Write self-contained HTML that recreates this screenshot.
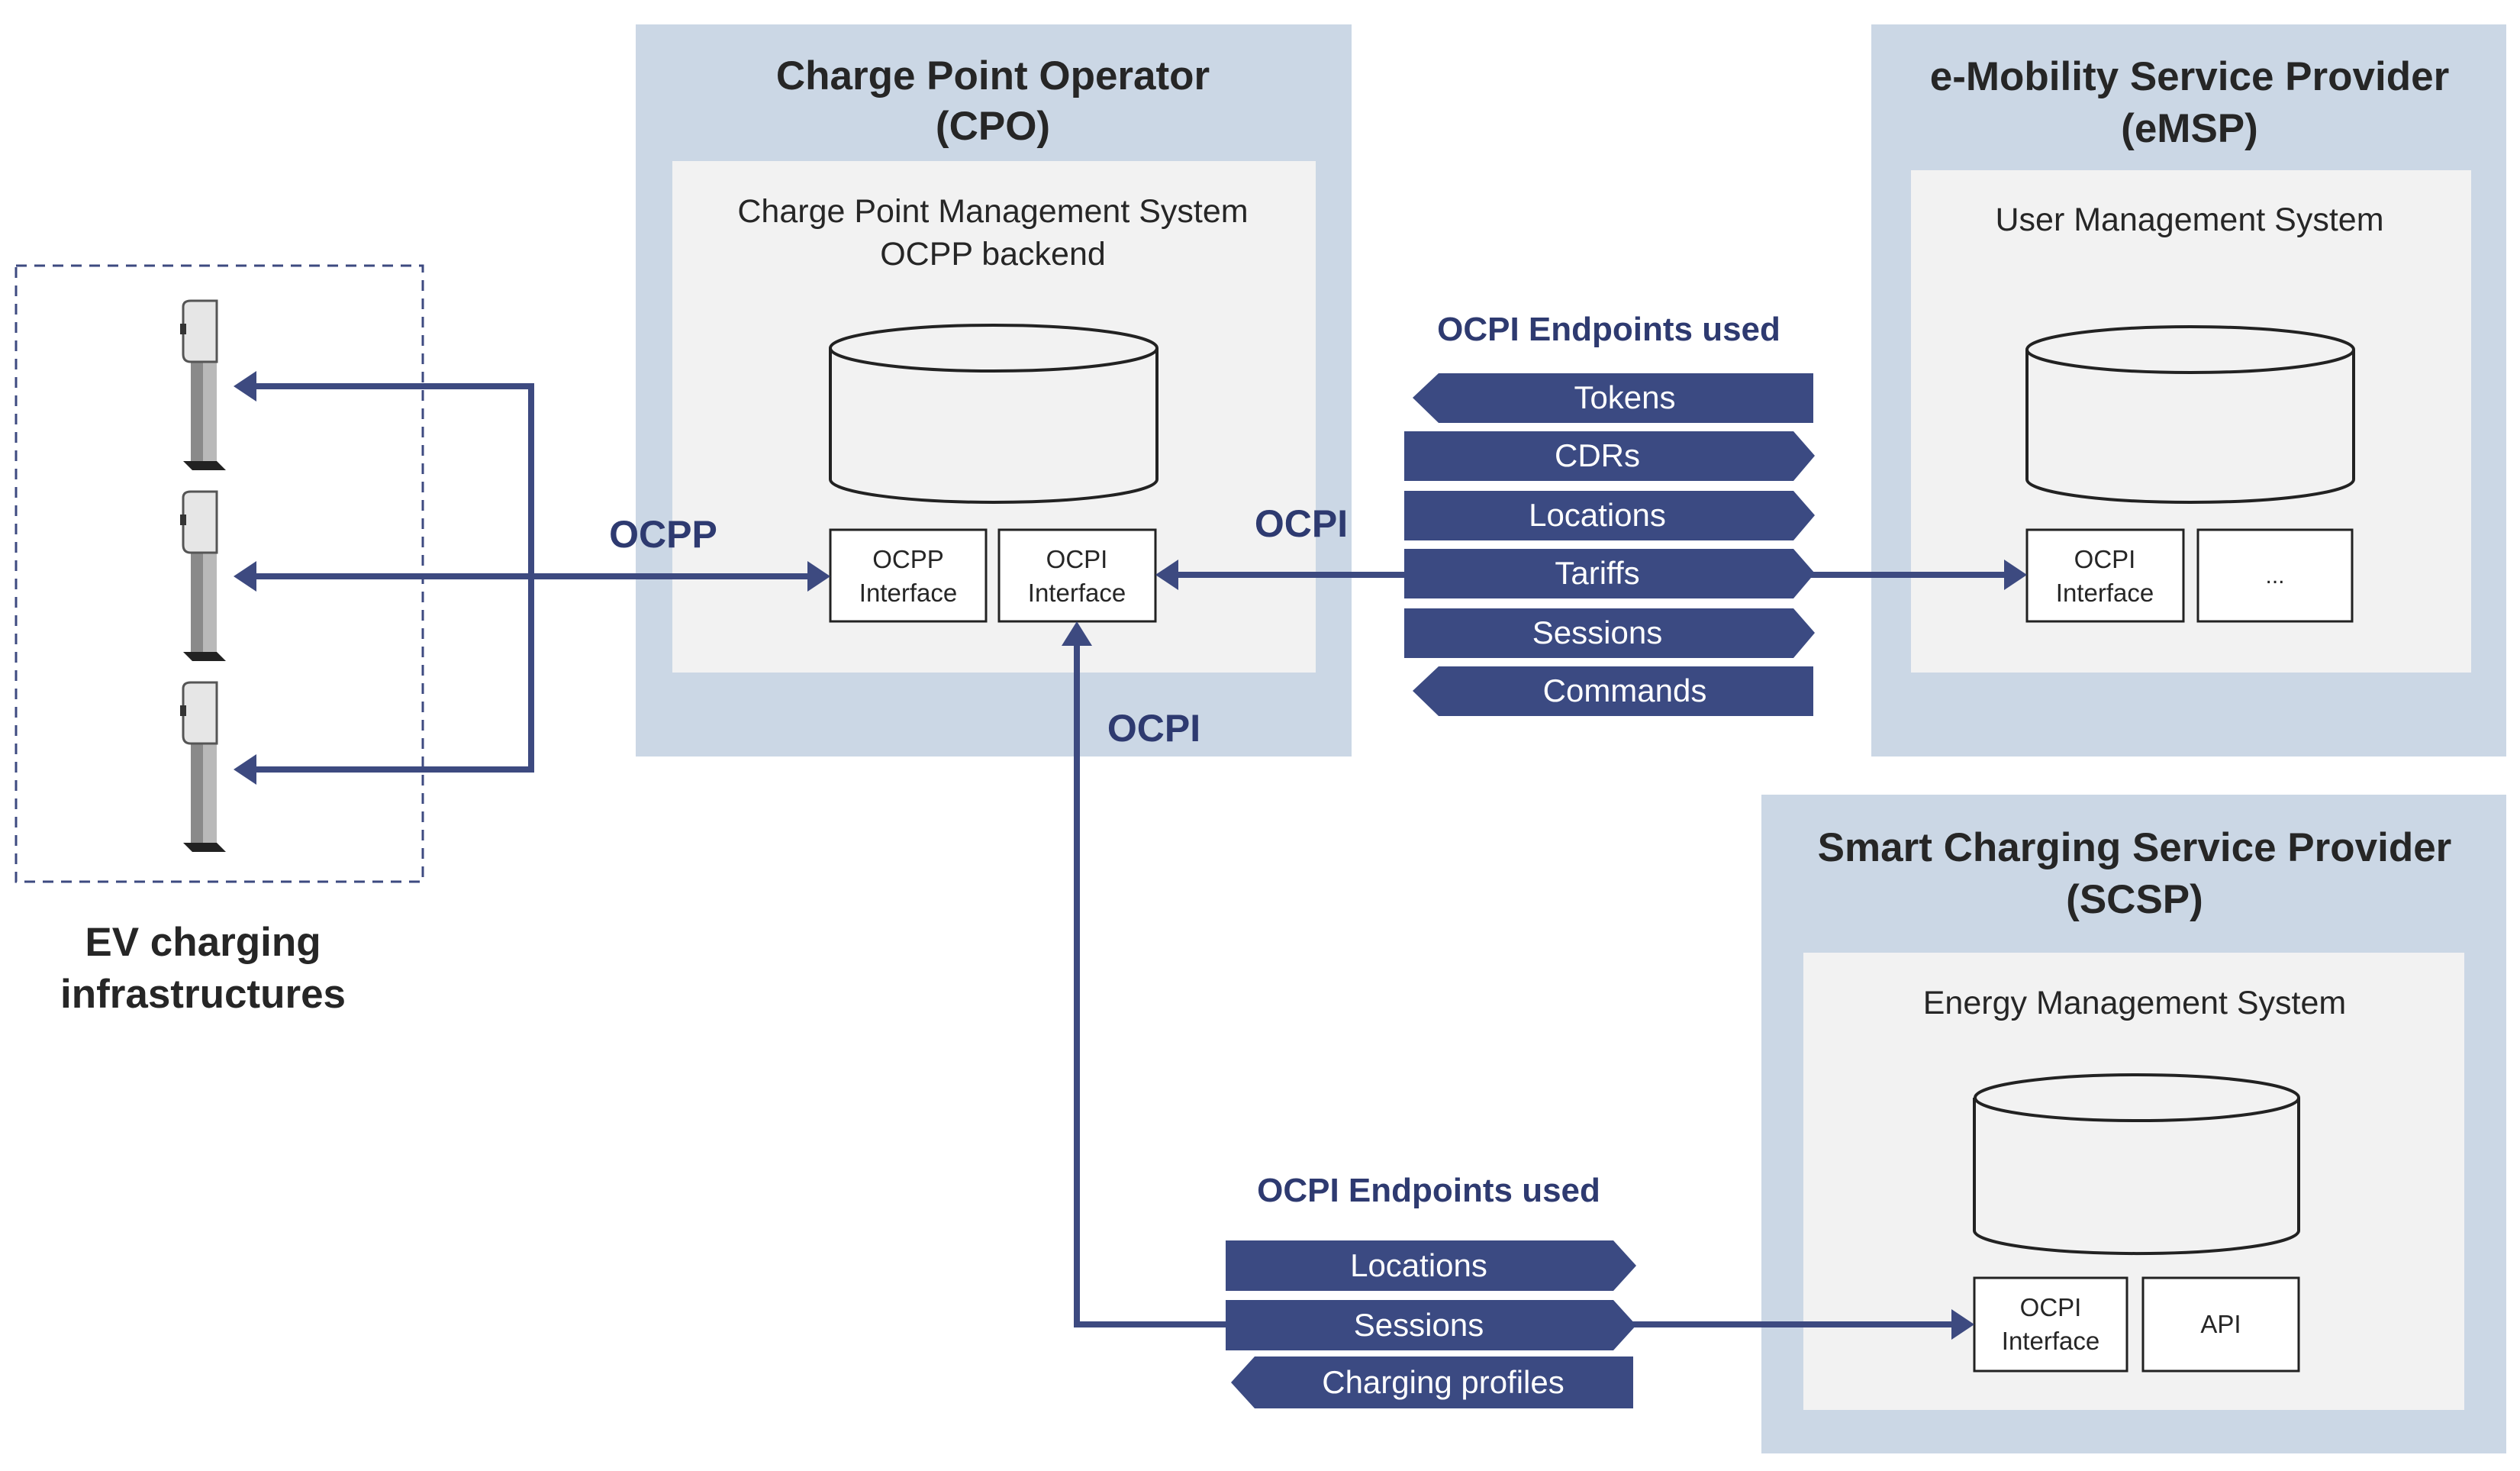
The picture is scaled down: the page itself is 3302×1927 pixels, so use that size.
<!DOCTYPE html>
<html><head><meta charset="utf-8"><style>
html,body{margin:0;padding:0;background:#fff;}
svg{display:block;}
text{font-family:"Liberation Sans",Arial,sans-serif;}
</style></head><body>
<svg width="3302" height="1927" viewBox="0 0 3302 1927" xmlns="http://www.w3.org/2000/svg">
<defs>
<g id="chg">
  <rect x="14" y="0" width="34" height="210" fill="#8a8a8a"/>
  <rect x="30" y="0" width="18" height="210" fill="#b9b9b9"/>
  <path d="M4 8 Q4 0 14 0 L48 0 L48 80 L14 80 Q4 80 4 70 Z" fill="#e6e6e6" stroke="#555" stroke-width="3"/>
  <rect x="0" y="30" width="8" height="14" fill="#333"/>
  <path d="M4 210 L48 210 L60 222 L16 222 Z" fill="#222"/>
</g>
</defs>

<!-- CPO -->
<rect x="833" y="32" width="938" height="959" fill="#cbd7e5"/>
<rect x="881" y="211" width="843" height="670" fill="#f2f2f2"/>
<text x="1301" y="117" font-size="53" font-weight="bold" fill="#262626" text-anchor="middle">Charge Point Operator</text>
<text x="1301" y="183" font-size="53" font-weight="bold" fill="#262626" text-anchor="middle">(CPO)</text>
<text x="1301" y="291" font-size="43" fill="#262626" text-anchor="middle">Charge Point Management System</text>
<text x="1301" y="347" font-size="43" fill="#262626" text-anchor="middle">OCPP backend</text>
<path d="M1088 456 L1088 628 A214 30 0 0 0 1516 628 L1516 456" fill="#f2f2f2" stroke="#222" stroke-width="4"/>
<ellipse cx="1302" cy="456" rx="214" ry="30" fill="#f2f2f2" stroke="#222" stroke-width="4"/>
<rect x="1088" y="694" width="204" height="120" fill="#fff" stroke="#222" stroke-width="3"/>
<rect x="1309" y="694" width="205" height="120" fill="#fff" stroke="#222" stroke-width="3"/>
<text x="1190" y="744" font-size="33" fill="#262626" text-anchor="middle">OCPP</text>
<text x="1190" y="788" font-size="33" fill="#262626" text-anchor="middle">Interface</text>
<text x="1411" y="744" font-size="33" fill="#262626" text-anchor="middle">OCPI</text>
<text x="1411" y="788" font-size="33" fill="#262626" text-anchor="middle">Interface</text>

<!-- eMSP -->
<rect x="2452" y="32" width="832" height="959" fill="#cbd7e5"/>
<rect x="2504" y="223" width="734" height="658" fill="#f2f2f2"/>
<text x="2869" y="118" font-size="53" font-weight="bold" fill="#262626" text-anchor="middle">e-Mobility Service Provider</text>
<text x="2869" y="186" font-size="53" font-weight="bold" fill="#262626" text-anchor="middle">(eMSP)</text>
<text x="2869" y="302" font-size="43" fill="#262626" text-anchor="middle">User Management System</text>
<path d="M2656 458 L2656 628 A214 30 0 0 0 3084 628 L3084 458" fill="#f2f2f2" stroke="#222" stroke-width="4"/>
<ellipse cx="2870" cy="458" rx="214" ry="30" fill="#f2f2f2" stroke="#222" stroke-width="4"/>
<rect x="2656" y="694" width="205" height="120" fill="#fff" stroke="#222" stroke-width="3"/>
<rect x="2880" y="694" width="202" height="120" fill="#fff" stroke="#222" stroke-width="3"/>
<text x="2758" y="744" font-size="33" fill="#262626" text-anchor="middle">OCPI</text>
<text x="2758" y="788" font-size="33" fill="#262626" text-anchor="middle">Interface</text>
<text x="2981" y="764" font-size="30" fill="#262626" text-anchor="middle">...</text>

<!-- SCSP -->
<rect x="2308" y="1041" width="976" height="863" fill="#cbd7e5"/>
<rect x="2363" y="1248" width="866" height="599" fill="#f2f2f2"/>
<text x="2797" y="1128" font-size="53" font-weight="bold" fill="#262626" text-anchor="middle">Smart Charging Service Provider</text>
<text x="2797" y="1196" font-size="53" font-weight="bold" fill="#262626" text-anchor="middle">(SCSP)</text>
<text x="2797" y="1328" font-size="43" fill="#262626" text-anchor="middle">Energy Management System</text>
<path d="M2587 1438 L2587 1612 A212 30 0 0 0 3012 1612 L3012 1438" fill="#f2f2f2" stroke="#222" stroke-width="4"/>
<ellipse cx="2800" cy="1438" rx="212" ry="30" fill="#f2f2f2" stroke="#222" stroke-width="4"/>
<rect x="2587" y="1674" width="200" height="122" fill="#fff" stroke="#222" stroke-width="3"/>
<rect x="2808" y="1674" width="204" height="122" fill="#fff" stroke="#222" stroke-width="3"/>
<text x="2687" y="1724" font-size="33" fill="#262626" text-anchor="middle">OCPI</text>
<text x="2687" y="1768" font-size="33" fill="#262626" text-anchor="middle">Interface</text>
<text x="2910" y="1746" font-size="33" fill="#262626" text-anchor="middle">API</text>

<!-- EV infra -->
<rect x="21" y="348" width="533" height="807" fill="none" stroke="#3d4a80" stroke-width="3" stroke-dasharray="14,10"/>
<use href="#chg" x="236" y="394"/>
<use href="#chg" x="236" y="644"/>
<use href="#chg" x="236" y="894"/>
<text x="266" y="1252" font-size="53" font-weight="bold" fill="#262626" text-anchor="middle">EV charging</text>
<text x="266" y="1320" font-size="53" font-weight="bold" fill="#262626" text-anchor="middle">infrastructures</text>

<!-- connectors -->
<g stroke="#3d4a80" stroke-width="8" fill="none">
  <polyline points="330,506 696,506 696,1008 330,1008"/>
  <line x1="330" y1="755" x2="1062" y2="755"/>
  <line x1="1540" y1="753" x2="1850" y2="753"/>
  <line x1="2370" y1="753" x2="2630" y2="753"/>
  <polyline points="1411,840 1411,1735 1610,1735"/>
  <line x1="2130" y1="1735" x2="2562" y2="1735"/>
</g>
<g fill="#3d4a80">
  <polygon points="306,506 336,486 336,526"/>
  <polygon points="306,755 336,735 336,775"/>
  <polygon points="306,1008 336,988 336,1028"/>
  <polygon points="1088,755 1058,735 1058,775"/>
  <polygon points="1514,753 1544,733 1544,773"/>
  <polygon points="2656,753 2626,733 2626,773"/>
  <polygon points="1411,814 1391,846 1431,846"/>
  <polygon points="2587,1735 2557,1715 2557,1755"/>
</g>
<text x="869" y="717" font-size="50" font-weight="bold" fill="#2e3a70" text-anchor="middle">OCPP</text>
<text x="1705" y="703" font-size="50" font-weight="bold" fill="#2e3a70" text-anchor="middle">OCPI</text>
<text x="1512" y="971" font-size="50" font-weight="bold" fill="#2e3a70" text-anchor="middle">OCPI</text>

<!-- top endpoints -->
<text x="2108" y="446" font-size="44" font-weight="bold" fill="#2e3a70" text-anchor="middle">OCPI Endpoints used</text>
<g fill="#3b4a82">
  <polygon points="1851,521 1885,489 2376,489 2376,554 1885,554"/>
  <polygon points="1840,565 2350,565 2378,597 2350,630 1840,630"/>
  <polygon points="1840,643 2350,643 2378,675 2350,708 1840,708"/>
  <polygon points="1840,719 2350,719 2378,751 2350,784 1840,784"/>
  <polygon points="1840,797 2350,797 2378,829 2350,862 1840,862"/>
  <polygon points="1851,905 1885,873 2376,873 2376,938 1885,938"/>
  <polygon points="1606,1625 2114,1625 2144,1658 2114,1691 1606,1691"/>
  <polygon points="1606,1703 2114,1703 2144,1736 2114,1769 1606,1769"/>
  <polygon points="1613,1811 1644,1777 2140,1777 2140,1845 1644,1845"/>
</g>
<g fill="#fff" font-size="42" text-anchor="middle">
  <text x="2129" y="535">Tokens</text>
  <text x="2093" y="611">CDRs</text>
  <text x="2093" y="689">Locations</text>
  <text x="2093" y="765">Tariffs</text>
  <text x="2093" y="843">Sessions</text>
  <text x="2129" y="919">Commands</text>
  <text x="1859" y="1672">Locations</text>
  <text x="1859" y="1750">Sessions</text>
  <text x="1891" y="1825">Charging profiles</text>
</g>
<text x="1872" y="1574" font-size="44" font-weight="bold" fill="#2e3a70" text-anchor="middle">OCPI Endpoints used</text>
</svg>
</body></html>
